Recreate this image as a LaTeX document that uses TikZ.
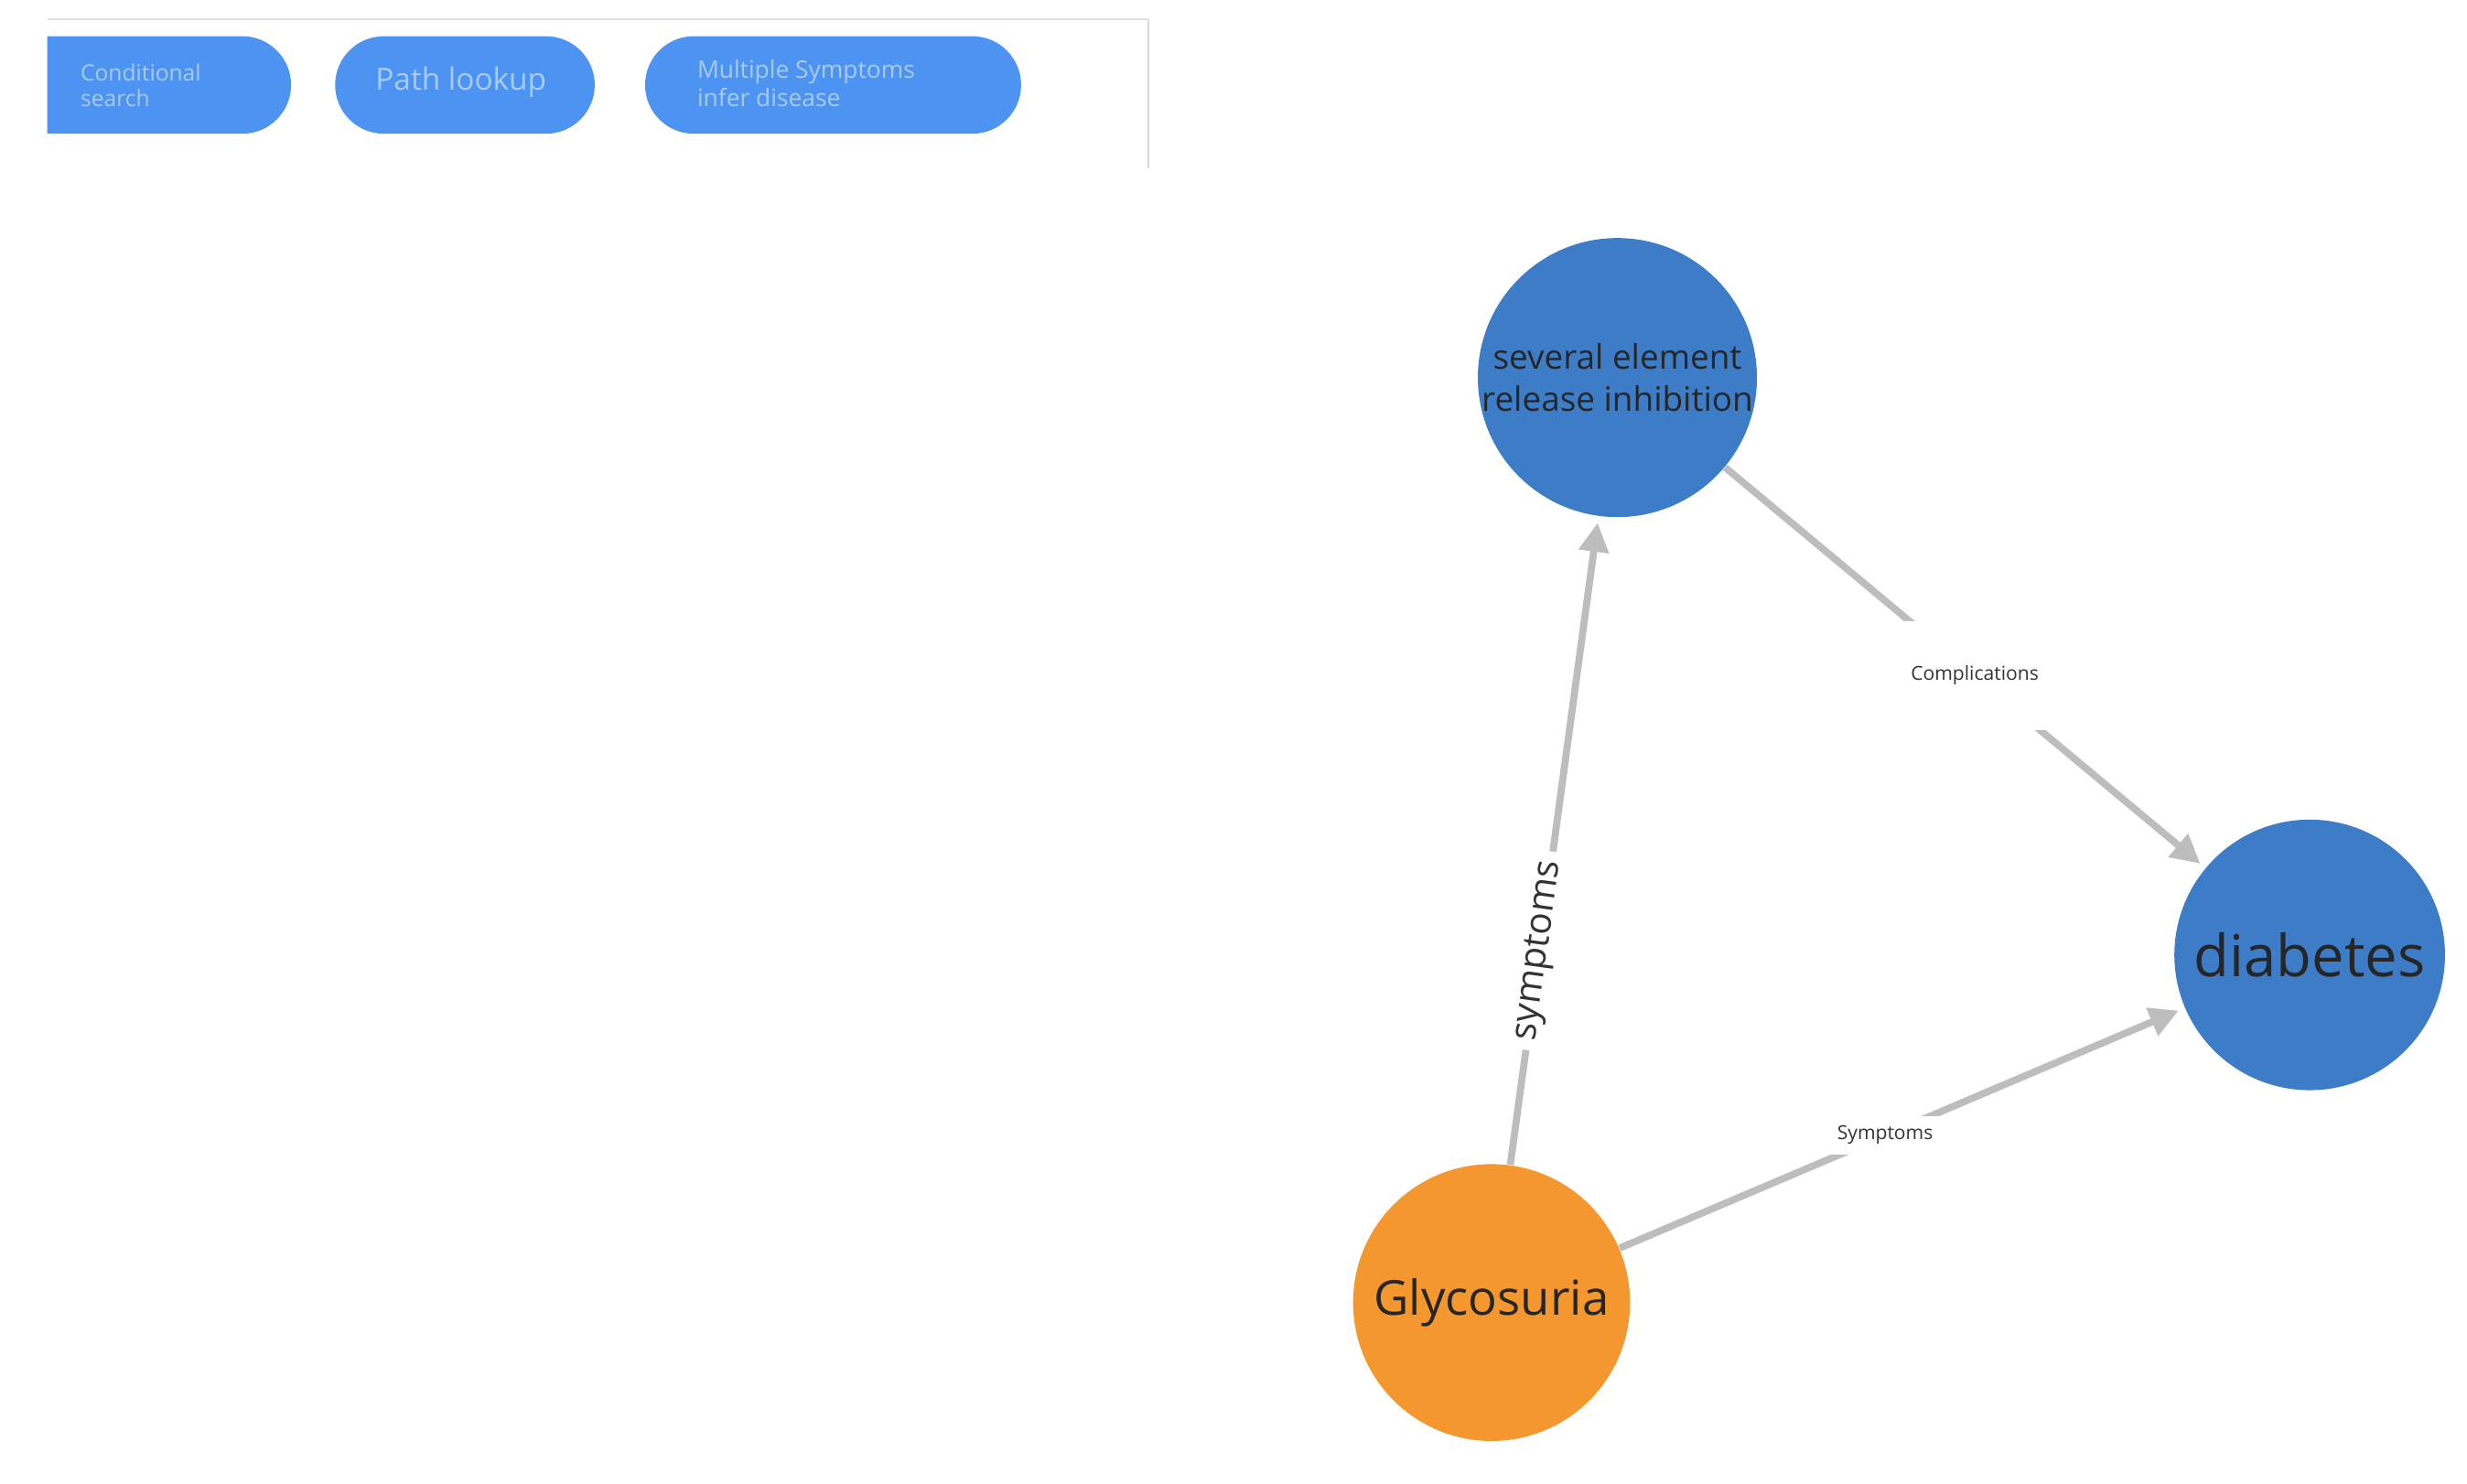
\documentclass[tikz,border=0pt]{standalone}
\usepackage{fontspec}
\setmainfont{Open Sans}
\usetikzlibrary{arrows.meta}
\definecolor{btn}{HTML}{4D94F2}
\definecolor{btntxt}{HTML}{A9CBF7}
\definecolor{nblue}{HTML}{3D7CC6}
\definecolor{norange}{HTML}{F4972F}
\definecolor{edgec}{HTML}{BDBDBD}
\tikzset{
  ent/.style={circle,minimum size=172*0.017194cm,inner sep=0pt,align=center,text=black!85},
  rel/.style={draw=edgec,line width=2.2pt,-{Triangle[length=9pt,width=9pt]},shorten >=2pt},
  lbl/.style={fill=white,inner sep=3pt,text=black!80},
}
\begin{document}
\begin{tikzpicture}[x=0.017194cm,y=-0.017194cm]
\useasboundingbox (0,0) rectangle (1568,943);
\draw[black!12,line width=0.6pt] (30,12) -- (730,12);
\draw[black!15,line width=0.6pt] (730,12) -- (730,107);
% buttons
\begin{scope}
\clip (30,0) rectangle (200,100);
\fill[btn,rounded corners=31*0.017194cm] (0,23) rectangle (185,85);
\end{scope}
\node[text=btntxt,font=\fontsize{7}{8}\selectfont,align=left,anchor=west] (b1) at (44,54) {Conditional\\search};
\fill[btn,rounded corners=31*0.017194cm] (213,23) rectangle (378,85);
\node[text=btntxt,font=\fontsize{9.5}{11}\selectfont] (b2) at (293,52) {Path lookup};
\fill[btn,rounded corners=31*0.017194cm] (410,23) rectangle (649,85);
\node[text=btntxt,font=\fontsize{7.5}{9}\selectfont,align=left,anchor=west] (b3) at (436,53) {Multiple Symptoms\\infer disease};
% nodes
\node[ent,fill=nblue,minimum size=176*0.017194cm,font=\fontsize{10.5}{13}\selectfont] (sev) at (1028,240) {several element\\release inhibition};
\node[ent,fill=nblue,font=\fontsize{18}{20}\selectfont] (dia) at (1468,607) {diabetes};
\node[ent,fill=norange,minimum size=176*0.017194cm,font=\fontsize{15}{18}\selectfont] (gly) at (948,828) {Glycosuria};
% edges
\draw[rel] (gly) -- node[lbl,sloped,font=\fontsize{11.5}{13}\selectfont,pos=0.33] {symptoms} (sev);
\draw[rel] (sev) -- node[lbl,font=\fontsize{6}{7}\selectfont,inner sep=14pt,pos=0.52] {Complications} (dia);
\draw[rel] (gly) -- node[lbl,font=\fontsize{6}{7}\selectfont,pos=0.47] {Symptoms} (dia);
\end{tikzpicture}
\end{document}
